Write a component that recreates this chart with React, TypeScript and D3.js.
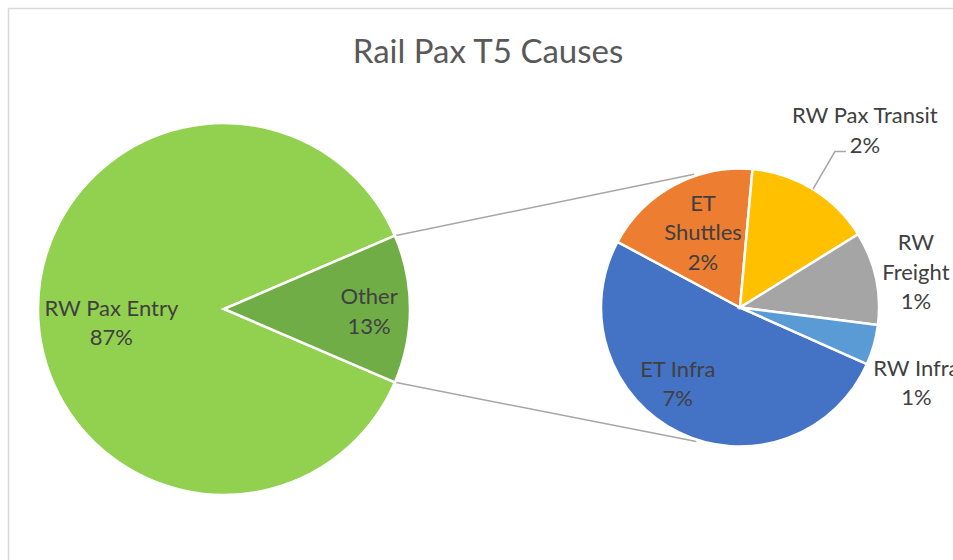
import * as d3 from "d3";
import React from "react";

// main pie
const mainCategories = ["RW Pax Entry", "Other"];
const mainValues = [87.1, 12.9];
const mainColors = ["#92D050", "#70AD47"];

// second pie (breakdown of "Other")
const secondCategories = ["ET Infra", "ET Shuttles", "RW Pax Transit", "RW Freight", "RW Infra"];
const secondValues = [6.6, 2.4, 1.9, 1.4, 0.6];
const secondColors = ["#4472C4", "#ED7D31", "#FFC000", "#A5A5A5", "#5B9BD5"];

const title = "Rail Pax T5 Causes";

// how Excel wrapped some labels
const wrapped: Record<string, string[]> = {
  "ET Shuttles": ["ET", "Shuttles"],
  "RW Freight": ["RW", "Freight"],
};

// label placement: radius factor + angle nudge (degrees)
const placement: Record<string, { r: number; da: number }> = {
  "RW Pax Entry": { r: 0.61, da: -7 },
  Other: { r: 0.78, da: 1 },
  "ET Infra": { r: 0.71, da: 13 },
  "ET Shuttles": { r: 0.6, da: 2 },
  "RW Pax Transit": { r: 1.56, da: 3.5 },
  "RW Freight": { r: 1.29, da: 1 },
  "RW Infra": { r: 1.38, da: 7.5 },
};

const W = 953;
const H = 560;
const FONT = "Lato, 'Open Sans', sans-serif";
const LINE_H = 29.5;
const rad = (deg: number) => (deg * Math.PI) / 180;

const polar = (cx: number, cy: number, r: number, a: number): [number, number] => [
  cx + r * Math.sin(a),
  cy - r * Math.cos(a),
];

const Label: React.FC<{ x: number; y: number; lines: string[] }> = ({ x, y, lines }) => {
  const first = y - ((lines.length - 1) * LINE_H) / 2 + 7.5;
  return (
    <text x={x} textAnchor="middle" fontFamily={FONT} fontSize={22} fill="#404040">
      {lines.map((l, i) => (
        <tspan key={i} x={x} y={first + i * LINE_H}>
          {l}
        </tspan>
      ))}
    </text>
  );
};

const App: React.FC = () => {
  const c1 = { x: 224, y: 309, r: 186 };
  const c2 = { x: 740, y: 307.5, r: 139 };

  const mainTotal = d3.sum(mainValues);
  const otherSpan = (2 * Math.PI * mainValues[1]) / mainTotal;
  const mainStart = Math.PI / 2 + otherSpan / 2;
  const mainArcs = d3
    .pie<number>()
    .sort(null)
    .startAngle(mainStart)
    .endAngle(mainStart + 2 * Math.PI)(mainValues);

  const secondStart = rad(114);
  const secondArcs = d3
    .pie<number>()
    .sort(null)
    .startAngle(secondStart)
    .endAngle(secondStart + 2 * Math.PI)(secondValues);

  const arc1 = d3.arc<d3.PieArcDatum<number>>().innerRadius(0).outerRadius(c1.r);
  const arc2 = d3.arc<d3.PieArcDatum<number>>().innerRadius(0).outerRadius(c2.r);

  const pct = (v: number, total: number) => `${Math.round((v / total) * 100)}%`;
  const grand = mainTotal;

  // connector lines from "Other" slice edges to second pie
  const other = mainArcs[1];
  const p1a = polar(c1.x, c1.y, c1.r, other.startAngle);
  const p1b = polar(c1.x, c1.y, c1.r, other.endAngle);
  const p2a = polar(c2.x, c2.y, c2.r + 2, rad(-19));
  const p2b = polar(c2.x, c2.y, c2.r + 2, rad(198));

  const labelPos = (cx: number, cy: number, r: number, d: d3.PieArcDatum<number>, name: string) => {
    const p = placement[name];
    const mid = (d.startAngle + d.endAngle) / 2 + rad(p.da);
    return polar(cx, cy, r * p.r, mid);
  };

  return (
    <svg
      width={W}
      height={H}
      style={{ position: "absolute", left: 0, top: 0, background: "#fff" }}
    >
      <rect x={8.5} y={8.5} width={1200} height={1200} fill="none" stroke="#D9D9D9" strokeWidth={1.5} />
      <text x={488} y={63} textAnchor="middle" fontFamily={FONT} fontSize={33} fill="#595959">
        {title}
      </text>

      <line x1={p1a[0]} y1={p1a[1]} x2={p2a[0]} y2={p2a[1]} stroke="#A6A6A6" strokeWidth={1.5} />
      <line x1={p1b[0]} y1={p1b[1]} x2={p2b[0]} y2={p2b[1]} stroke="#A6A6A6" strokeWidth={1.5} />

      <g transform={`translate(${c1.x},${c1.y})`}>
        {mainArcs.map((d, i) => (
          <path key={i} d={arc1(d) || ""} fill={mainColors[i]} stroke="#fff" strokeWidth={2.5} />
        ))}
      </g>
      <g transform={`translate(${c2.x},${c2.y})`}>
        {secondArcs.map((d, i) => (
          <path key={i} d={arc2(d) || ""} fill={secondColors[i]} stroke="#fff" strokeWidth={2.5} />
        ))}
      </g>

      {mainArcs.map((d, i) => {
        const name = mainCategories[i];
        const [x, y] = labelPos(c1.x, c1.y, c1.r, d, name);
        return <Label key={name} x={x} y={y} lines={[...(wrapped[name] || [name]), pct(d.data, grand)]} />;
      })}

      {secondArcs.map((d, i) => {
        const name = secondCategories[i];
        const [x, y] = labelPos(c2.x, c2.y, c2.r, d, name);
        const lines = [...(wrapped[name] || [name]), pct(d.data, grand)];
        const outside = placement[name].r > 1;
        let leader = null;
        if (name === "RW Pax Transit" && outside) {
          const mid = (d.startAngle + d.endAngle) / 2;
          const s = polar(c2.x, c2.y, c2.r, mid);
          const lastBase = y - ((lines.length - 1) * LINE_H) / 2 + 7.5 + (lines.length - 1) * LINE_H;
          const ex = x - 19;
          const ey = lastBase - 1;
          leader = (
            <polyline
              points={`${s[0]},${s[1]} ${ex - 11},${ey} ${ex},${ey}`}
              fill="none"
              stroke="#A6A6A6"
              strokeWidth={1.5}
            />
          );
        }
        return (
          <g key={name}>
            {leader}
            <Label x={x} y={y} lines={lines} />
          </g>
        );
      })}
    </svg>
  );
};

export default App;
